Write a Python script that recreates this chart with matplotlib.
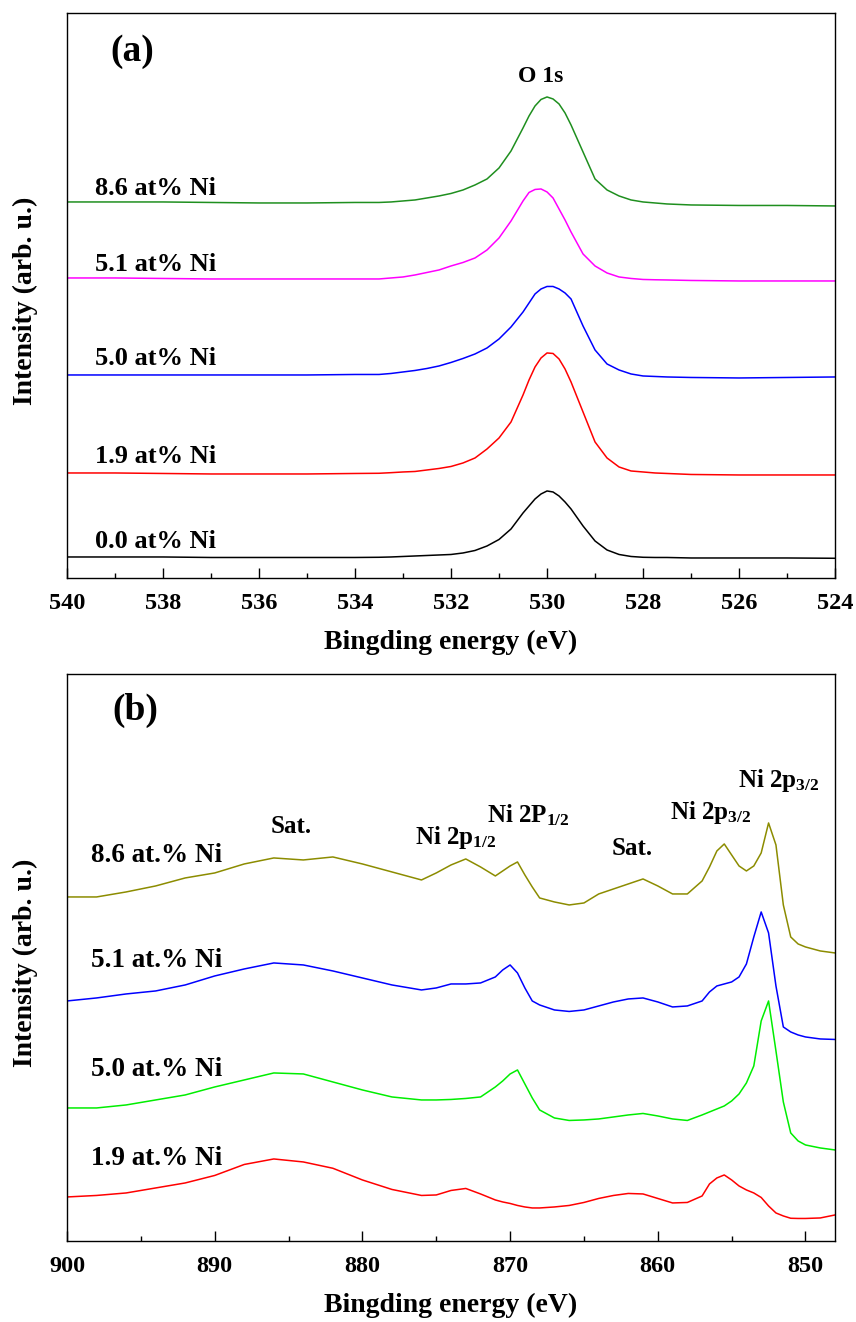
import matplotlib
matplotlib.use("Agg")
import matplotlib.pyplot as plt
from matplotlib.ticker import MultipleLocator

plt.rcParams['font.family'] = ['Liberation Serif', 'DejaVu Serif']
plt.rcParams['font.weight'] = 'bold'
plt.rcParams['mathtext.fontset'] = 'custom'
plt.rcParams['mathtext.rm'] = 'Liberation Serif:bold'
plt.rcParams['mathtext.it'] = 'Liberation Serif:bold'
plt.rcParams['mathtext.bf'] = 'Liberation Serif:bold'

# (a) O 1s spectra, binding energy (eV) and intensity (offset, arb. u.)
energy_a = [540, 539, 538, 537, 536, 535, 534, 533.5, 533.25, 533, 532.75, 532.5,
            532.25, 532, 531.75, 531.5, 531.25, 531, 530.75, 530.5, 530.375, 530.25,
            530.125, 530, 529.875, 529.75, 529.625, 529.5, 529.25, 529, 528.75,
            528.5, 528.25, 528, 527.75, 527.5, 527, 526, 525, 524]
o1s_00 = [21, 21, 21, 20.5, 20.5, 20.5, 20.5, 20.7, 21, 21.5, 22, 22.5, 23, 23.5,
          25, 27.5, 32, 38.5, 49, 65, 72, 79, 84, 87, 86, 82, 76, 69, 52, 37, 28,
          23.5, 21.5, 20.7, 20.5, 20.5, 20, 20, 20, 19.7]
o1s_19 = [105, 105, 104.5, 104, 104, 104, 104.5, 104.7, 105.3, 106, 106.5, 108,
          109.5, 111.5, 115, 120, 129, 140, 156, 183, 198, 211, 220, 225, 224.5,
          219, 209, 196, 166, 136, 120, 111, 107, 106, 105, 104.5, 103.5, 103, 103,
          103]
o1s_50 = [203, 203, 203, 203, 203, 203, 203.5, 203.5, 204.5, 206, 207.5, 209.5,
          212, 215.5, 219.5, 224, 230, 239, 251, 266, 275, 284, 289, 291.5, 291.5,
          289, 285, 279, 252, 228, 214, 208, 204, 202, 201.5, 201, 200.5, 200,
          200.5, 201]
o1s_51 = [300, 300, 299.5, 299, 299, 299, 299, 299, 300, 301, 303, 305.5, 308, 312,
          315.5, 320, 328, 340, 357, 377, 385.5, 388.5, 389, 386, 380, 369, 358,
          346, 324, 312, 305, 301, 299.5, 298.5, 298.2, 298, 297.5, 297, 297, 297]
o1s_86 = [376, 376, 376, 375.5, 375, 375, 375.5, 375.5, 376, 377, 378, 380, 382,
          384.5, 388, 393, 399, 410, 427, 450, 462, 472, 478.5, 481, 479, 474, 465,
          453, 426, 399, 388, 382, 378, 376, 375, 374, 373, 372.5, 372.5, 372]
labels_a = ['0.0 at% Ni', '1.9 at% Ni', '5.0 at% Ni', '5.1 at% Ni', '8.6 at% Ni']

# (b) Ni 2p spectra
energy_b = [900, 898, 896, 894, 892, 890, 888, 886, 884, 882, 880, 878, 876, 875,
            874, 873, 872, 871, 870.5, 870, 869.5, 869, 868.5, 868, 867, 866, 865,
            864, 863, 862, 861, 860, 859, 858, 857, 856.5, 856, 855.5, 855, 854.5,
            854, 853.5, 853, 852.5, 852, 851.5, 851, 850.5, 850, 849, 848]
ni_19 = [44, 45.5, 48, 53, 58, 65.5, 76.5, 82, 79, 72.7, 61, 51.5, 45.5, 46, 50.5,
         52.5, 47, 41, 39, 37.5, 35.5, 34, 33, 33, 34, 35.5, 38.5, 42.5, 45.5, 47.5,
         47, 42.5, 38, 38.5, 45, 57, 63, 66, 61, 55, 51, 48, 43.5, 35, 28, 25, 22.7,
         22.5, 22.5, 23, 26]
ni_50 = [133, 133, 136, 141, 146, 154, 161, 168, 167, 159, 151, 144, 141, 141,
         141.5, 142.5, 144, 154, 160, 167, 171, 157, 143, 131, 123, 120.5, 121, 122,
         124, 126, 127.5, 125, 122, 120.5, 126, 129, 132, 135, 140, 147, 158, 175,
         220, 240, 190, 139, 108, 100, 96, 93, 91]
ni_51 = [240, 243, 247, 250, 256, 265, 272, 278, 276, 270, 263, 256, 251, 253, 257,
         257, 258, 264, 271, 276, 268, 253, 240, 236, 231, 229.5, 231, 235, 239, 242,
         243, 239, 234, 235, 240, 249, 255, 257, 259, 264, 277, 304, 329, 308, 255,
         214, 209, 206, 204, 202, 201.5]
ni_86 = [344, 344, 349, 355, 363, 368, 377, 383, 381, 384, 377, 369, 361, 368, 376,
         382, 374, 365, 370, 375, 379, 366, 354, 343, 339, 336, 338, 347, 352, 357,
         362, 355, 347, 347, 360, 374, 390, 397, 386, 375, 370, 375, 388, 418, 396,
         336, 304, 297, 294, 290, 288]
labels_b = ['1.9 at.% Ni', '5.0 at.% Ni', '5.1 at.% Ni', '8.6 at.% Ni']

fig = plt.figure(figsize=(8.56, 13.22), dpi=100)
ax1 = fig.add_axes([0.0783, 0.5628, 0.8972, 0.4274])
ax2 = fig.add_axes([0.0783, 0.0613, 0.8972, 0.4289])

colors_a = ['black', '#ff0000', '#0000ff', '#ff00ff', '#1f8f1f']
for y, c in zip([o1s_00, o1s_19, o1s_50, o1s_51, o1s_86], colors_a):
    ax1.plot(energy_a, y, color=c, lw=1.1)

label_y_a = [30, 115, 213, 307, 383]
for lab, ly in zip(labels_a, label_y_a):
    ax1.text(539.42, ly, lab, fontsize=19, fontweight='bold')
ax1.text(530.13, 496, 'O 1s', fontsize=17, fontweight='bold', ha='center')
ax1.text(539.1, 517, '(a)', fontsize=27, fontweight='bold')

ax1.set_xlim(540, 524)
ax1.set_ylim(0, 565)
ax1.xaxis.set_major_locator(MultipleLocator(2))
ax1.xaxis.set_minor_locator(MultipleLocator(1))

colors_b = ['#ff0000', '#00ee00', '#0000ff', '#8c8c00']
for y, c in zip([ni_19, ni_50, ni_51, ni_86], colors_b):
    ax2.plot(energy_b, y, color=c, lw=1.1)

label_y_b = [76, 165, 274, 379]
for lab, ly in zip(labels_b, label_y_b):
    ax2.text(898.35, ly, lab, fontsize=19.5, fontweight='bold')

peak_text = [(884.8, 408, 'Sat.', 'center'),
             (876.45, 397, 'Ni 2p$_{1/2}$', 'left'),
             (871.55, 419, 'Ni 2P$_{1/2}$', 'left'),
             (861.75, 386, 'Sat.', 'center'),
             (859.2, 422, 'Ni 2p$_{3/2}$', 'left'),
             (854.6, 454, 'Ni 2p$_{3/2}$', 'left')]
for px, py, t, ha in peak_text:
    ax2.text(px, py, t, fontsize=18, fontweight='bold', ha=ha)
ax2.text(896.9, 521, '(b)', fontsize=27, fontweight='bold')

ax2.set_xlim(900, 848)
ax2.set_ylim(0, 567)
ax2.xaxis.set_major_locator(MultipleLocator(10))
ax2.xaxis.set_minor_locator(MultipleLocator(5))

for ax in (ax1, ax2):
    ax.set_yticks([])
    ax.tick_params(axis='x', which='major', direction='in', length=7.5, width=1.0,
                   labelsize=17.5, pad=11)
    ax.tick_params(axis='x', which='minor', direction='in', length=3.8, width=1.0)
    for lbl in ax.get_xticklabels():
        lbl.set_fontweight('bold')
    for s in ax.spines.values():
        s.set_linewidth(1.0)
    ax.set_xlabel('Bingding energy (eV)', fontsize=20, fontweight='bold', labelpad=11)
    ax.set_ylabel('Intensity (arb. u.)', fontsize=20, fontweight='bold')
    ax.yaxis.set_label_coords(-0.038, 0.49)

fig.savefig('out.png', dpi=100)
